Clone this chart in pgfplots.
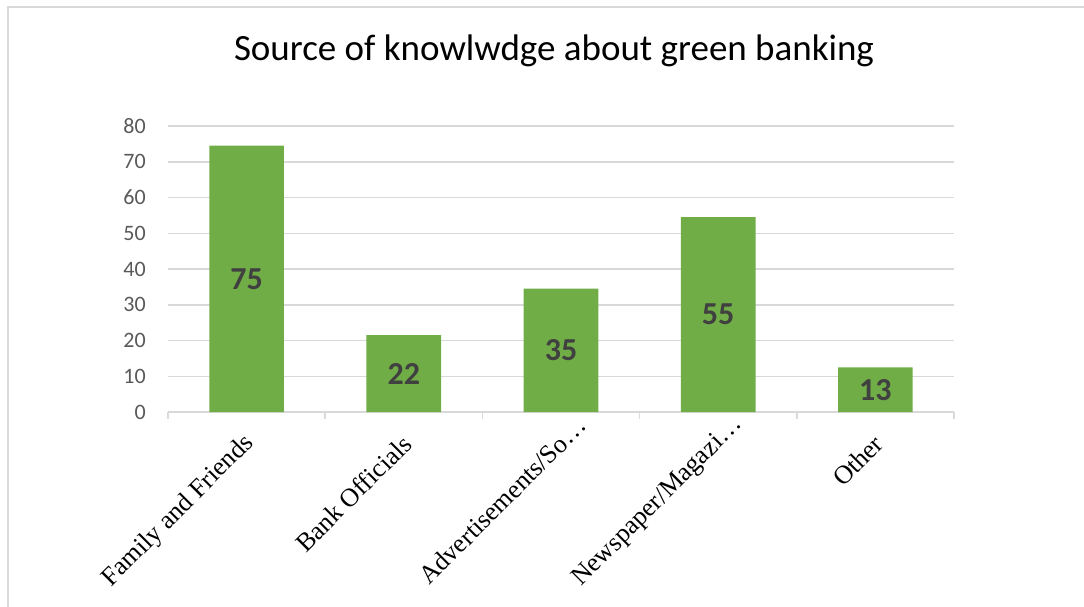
\documentclass[border=0pt]{standalone}
\usepackage{pgfplots}
\pgfplotsset{compat=1.18}
\usepackage{pgfplotstable}
\usepackage{fontspec}
\setmainfont{Liberation Serif}
\newfontfamily\carlito{Carlito}
\definecolor{bargreen}{HTML}{70AD47}
\definecolor{gridgray}{HTML}{D9D9D9}
\definecolor{ticktext}{HTML}{595959}
\definecolor{labeltext}{HTML}{404040}
\pgfplotstableread{
x v lab
0.5 74.5 75
1.5 21.5 22
2.5 34.5 35
3.5 54.5 55
4.5 12.5 13
}\datatable
\begin{document}
\begin{tikzpicture}[x=1pt,y=1pt]
\path[use as bounding box] (0,0) rectangle (1084,-606);
\draw[gridgray, line width=2pt] (8,-610) -- (8,-7) -- (1090,-7);
\node[font=\carlito\fontsize{37}{44}\selectfont, anchor=center] at (554,-51) {Source of knowlwdge about green banking};
\begin{axis}[
  at={(168pt,-412pt)}, anchor=south west,
  scale only axis, width=786pt, height=286pt,
  xmin=0, xmax=5, ymin=0, ymax=80,
  axis x line*=bottom,
  axis y line*=left,
  x axis line style={gridgray, line width=1.5pt, -},
  y axis line style={draw=none},
  ytick={0,10,...,80},
  ymajorgrids,
  grid style={gridgray, line width=1.5pt},
  /pgf/number format/assume math mode=true,
  yticklabel={\pgfmathprintnumber[assume math mode=true]{\tick}},
  yticklabel style={font=\carlito\fontsize{22}{22}\selectfont, text=ticktext, anchor=east, inner sep=0pt, xshift=-22pt},
  ytick style={draw=none},
  xtick={0.5,1.5,4.5},
  xticklabels={Family and Friends, Bank Officials, Other},
  xticklabel style={font=\fontsize{26}{26}\selectfont, text=black, rotate=45, anchor=east, inner sep=0pt, yshift=-22pt, xshift=-17pt},
  extra x ticks={2.5,3.5},
  extra x tick labels={Advertisements/So…, Newspaper/Magazi…},
  extra x tick style={xticklabel style={xshift=25pt, yshift=1pt}},
  minor xtick={0,1,...,5},
  major tick length=0pt,
  minor tick length=7pt,
  tick align=outside,
  minor tick style={gridgray, line width=1.5pt},
  clip=false,
]
\addplot[ybar, fill=bargreen, draw=none, bar width=0.475,
  visualization depends on=y \as \rawy,
  nodes near coords,
  point meta=explicit symbolic,
  nodes near coords style={font=\carlito\bfseries\fontsize{32}{32}\selectfont, text=labeltext, anchor=center, shift={(axis direction cs:0,-\rawy/2)}},
] table[x=x, y=v, meta=lab] {\datatable};
\end{axis}
\end{tikzpicture}
\end{document}
